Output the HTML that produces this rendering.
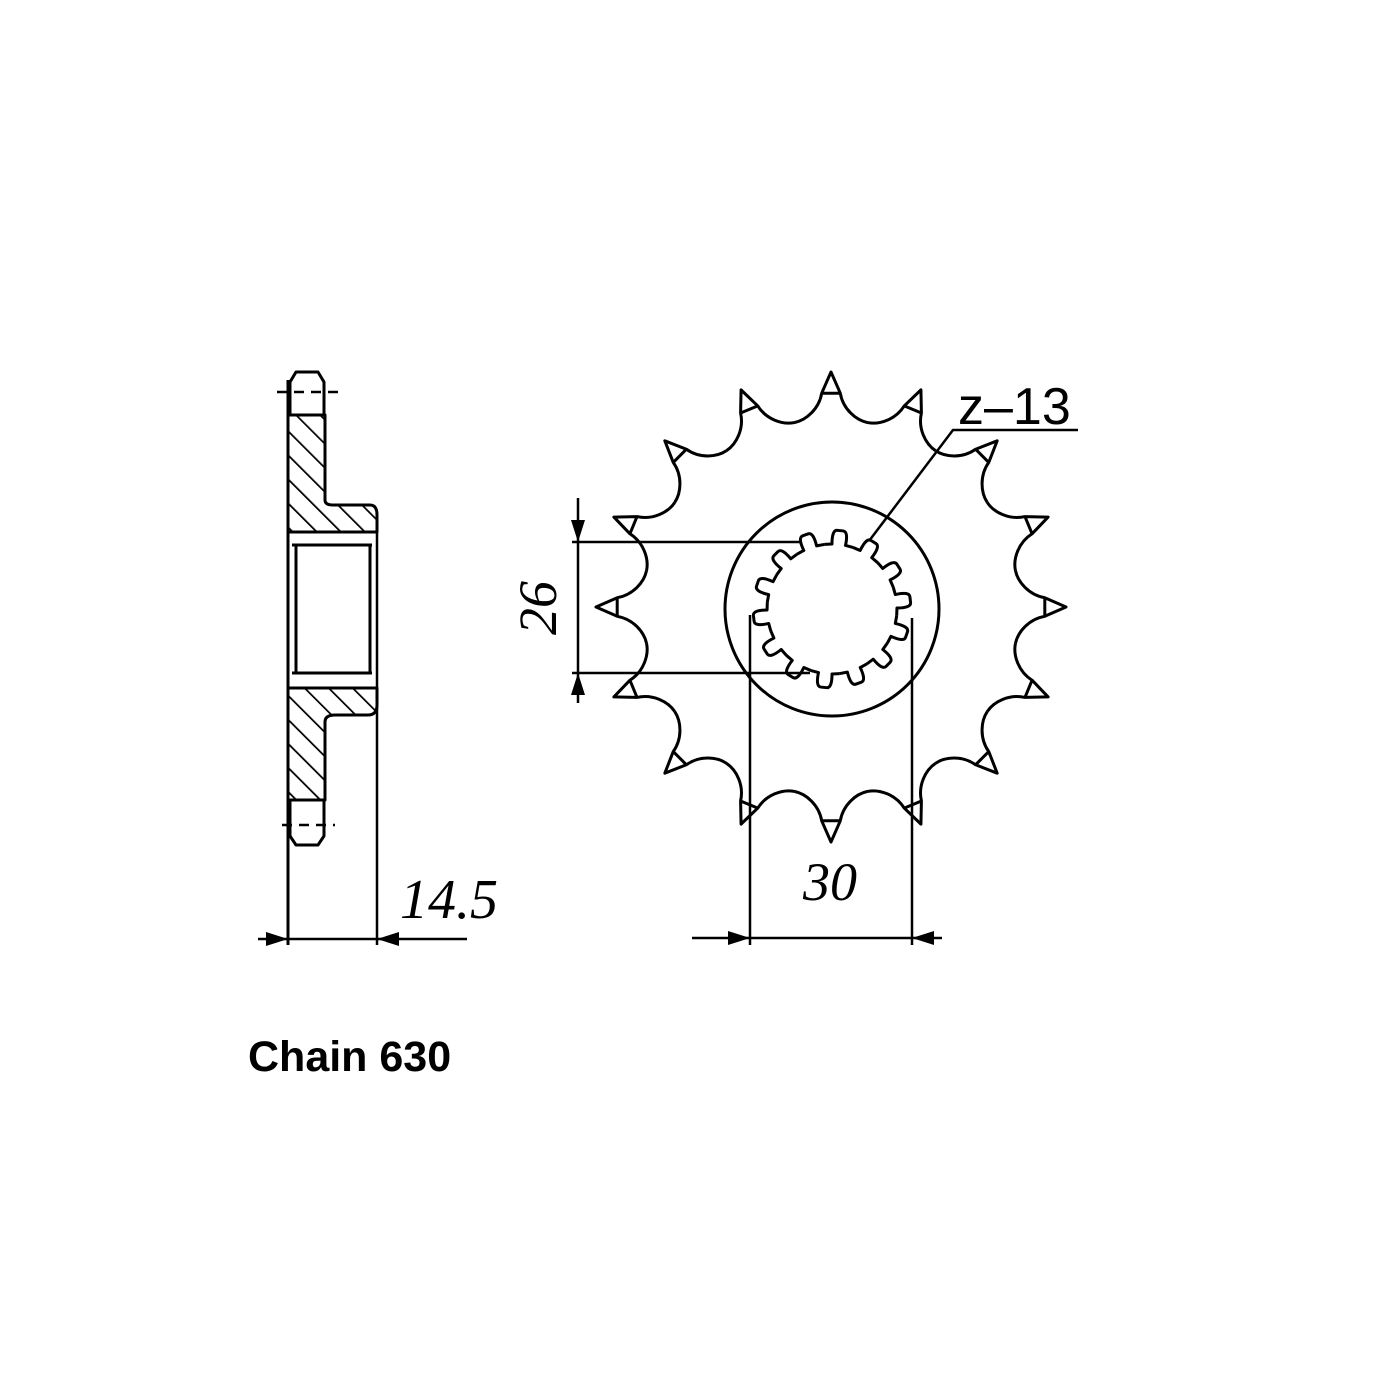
<!DOCTYPE html>
<html><head><meta charset="utf-8">
<style>
html,body{margin:0;padding:0;background:#fff;}
svg{display:block}
text{font-family:"Liberation Serif",serif;font-style:italic;fill:#000}
</style></head>
<body>
<svg width="1400" height="1400" viewBox="0 0 1400 1400" xmlns="http://www.w3.org/2000/svg">
<defs>
<pattern id="h" patternUnits="userSpaceOnUse" width="17" height="17" patternTransform="rotate(-45)">
<line x1="0" y1="0" x2="0" y2="17" stroke="#000" stroke-width="3.5"/>
</pattern>
<path id="tooth" d="M-36.7,-184.4 C-24.9,-186.7 -12,-198 -9.3,-213.8 L0,-235 L9.3,-213.8 C12,-198 24.9,-186.7 36.7,-184.4 M-9.3,-213.8 L9.3,-213.8"/>
<path id="spt" d="M-14.5,-63.4 L-6.8,-64.6 Q-8.3,-78.6 -3,-78.8 L3,-78.8 Q8.3,-78.6 6.8,-64.6 L14.5,-63.4"/>
</defs>
<g fill="none" stroke="#000" stroke-width="3" stroke-linejoin="round">
<path d="M288,415 L325,415 L325,500 Q325,505 333,505 L370,505 Q377,505 377,515 L377,532 L288,532 Z" fill="url(#h)"/>
<path d="M288,688 L377,688 L377,705 Q377,715 368,715 L335,715 Q325,715 325,722 L325,800 L288,800 Z" fill="url(#h)"/>
<path d="M290,415 L290,382 L296,372 L318,372 L324,382 L324,415"/>
<path d="M290,800 L290,836 L296,845 L318,845 L324,836 L324,800"/>
<line x1="288" y1="380" x2="288" y2="945"/>
<line x1="377" y1="515" x2="377" y2="945" stroke-width="2.5"/>
<rect x="296" y="545" width="74" height="128"/>
<path d="M292,532 L372,532 M292,545 L372,545 M292,673 L372,673 M292,688 L372,688"/>
<path d="M277,392 L340,392" stroke-dasharray="10,7" stroke-width="2.5"/>
<path d="M282,825 L335,825" stroke-dasharray="10,7" stroke-width="2.5"/>
<line x1="258" y1="939" x2="467" y2="939" stroke-width="2.5"/>
<path d="M288,939 L266,932 L266,946 Z M377,939 L399,932 L399,946 Z" fill="#000" stroke="none"/>
<g transform="translate(831,607)">
<use href="#tooth" transform="rotate(0)"/>
<use href="#tooth" transform="rotate(22.5)"/>
<use href="#tooth" transform="rotate(45)"/>
<use href="#tooth" transform="rotate(67.5)"/>
<use href="#tooth" transform="rotate(90)"/>
<use href="#tooth" transform="rotate(112.5)"/>
<use href="#tooth" transform="rotate(135)"/>
<use href="#tooth" transform="rotate(157.5)"/>
<use href="#tooth" transform="rotate(180)"/>
<use href="#tooth" transform="rotate(202.5)"/>
<use href="#tooth" transform="rotate(225)"/>
<use href="#tooth" transform="rotate(247.5)"/>
<use href="#tooth" transform="rotate(270)"/>
<use href="#tooth" transform="rotate(292.5)"/>
<use href="#tooth" transform="rotate(315)"/>
<use href="#tooth" transform="rotate(337.5)"/>
</g>
<circle cx="832" cy="609" r="107"/>
<g transform="translate(832,609) rotate(6)">
<use href="#spt" transform="rotate(0)"/>
<use href="#spt" transform="rotate(25.714)"/>
<use href="#spt" transform="rotate(51.429)"/>
<use href="#spt" transform="rotate(77.143)"/>
<use href="#spt" transform="rotate(102.857)"/>
<use href="#spt" transform="rotate(128.571)"/>
<use href="#spt" transform="rotate(154.286)"/>
<use href="#spt" transform="rotate(180)"/>
<use href="#spt" transform="rotate(205.714)"/>
<use href="#spt" transform="rotate(231.429)"/>
<use href="#spt" transform="rotate(257.143)"/>
<use href="#spt" transform="rotate(282.857)"/>
<use href="#spt" transform="rotate(308.571)"/>
<use href="#spt" transform="rotate(334.286)"/>
</g>
<line x1="572" y1="542" x2="800" y2="542" stroke-width="2.5"/>
<line x1="572" y1="673" x2="810" y2="673" stroke-width="2.5"/>
<line x1="578" y1="498" x2="578" y2="703" stroke-width="2.5"/>
<path d="M578,542 L571,520 L585,520 Z M578,673 L571,695 L585,695 Z" fill="#000" stroke="none"/>
<line x1="750" y1="615" x2="750" y2="945" stroke-width="2.5"/>
<line x1="912" y1="618" x2="912" y2="945" stroke-width="2.5"/>
<line x1="692" y1="938" x2="942" y2="938" stroke-width="2.5"/>
<path d="M750,938 L728,931 L728,945 Z M912,938 L934,931 L934,945 Z" fill="#000" stroke="none"/>
<polyline points="1078,430 953,430 869,541" stroke-width="2.5"/>
</g>
<text x="400" y="918" font-size="56">14.5</text>
<text x="830" y="900" font-size="54" text-anchor="middle">30</text>
<text transform="translate(556,608) rotate(-90)" font-size="54" text-anchor="middle">26</text>
<text x="958" y="424" font-size="52" style="font-family:'Liberation Sans',sans-serif;font-style:normal">z–13</text>
<text x="248" y="1071" font-size="43" font-weight="bold" style="font-family:'Liberation Sans',sans-serif;font-style:normal">Chain 630</text>
</svg>
</body></html>
